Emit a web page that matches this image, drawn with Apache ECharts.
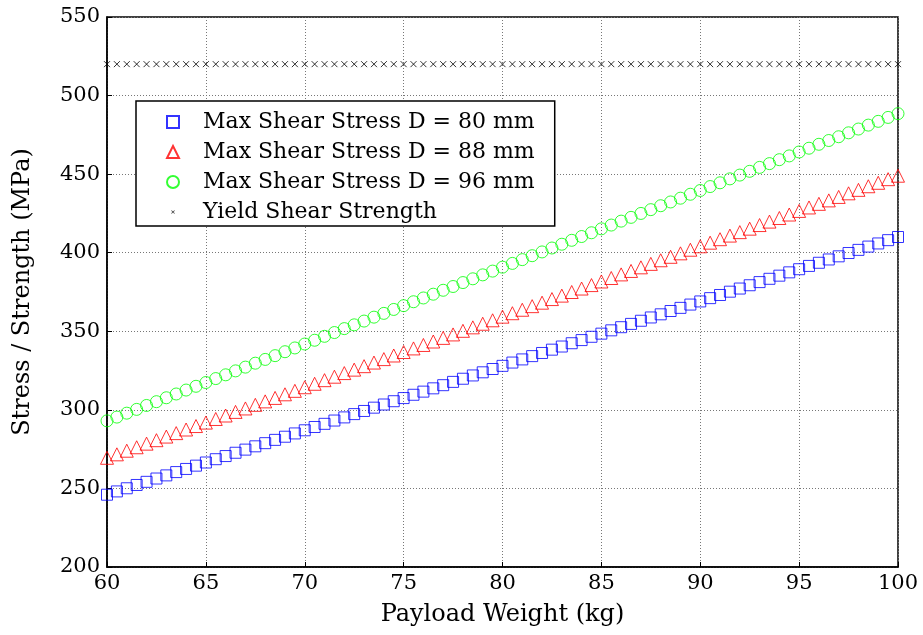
<!DOCTYPE html>
<html>
<head>
<meta charset="utf-8">
<script src="https://cdn.jsdelivr.net/npm/echarts@6/dist/echarts.min.js"></script>
<style>
  html, body { margin: 0; padding: 0; background: #fff; }
  #main { width: 923px; height: 635px; }
</style>
</head>
<body>
<div id="main"></div>
<script>
// payload weight, 60..100 kg every 0.5 kg
const weights = [60,60.5,61,61.5,62,62.5,63,63.5,64,64.5,65,65.5,66,66.5,67,67.5,68,68.5,69,69.5,
  70,70.5,71,71.5,72,72.5,73,73.5,74,74.5,75,75.5,76,76.5,77,77.5,78,78.5,79,79.5,
  80,80.5,81,81.5,82,82.5,83,83.5,84,84.5,85,85.5,86,86.5,87,87.5,88,88.5,89,89.5,
  90,90.5,91,91.5,92,92.5,93,93.5,94,94.5,95,95.5,96,96.5,97,97.5,98,98.5,99,99.5,100];

// max shear stress, D = 80 mm (MPa)
const stressD80 = [246.0,248.1,250.1,252.2,254.2,256.3,258.3,260.4,262.4,264.5,
  266.5,268.6,270.6,272.7,274.7,276.8,278.8,280.9,282.9,285.0,
  287.0,289.1,291.1,293.2,295.2,297.3,299.3,301.4,303.4,305.5,
  307.5,309.6,311.6,313.7,315.7,317.8,319.8,321.9,323.9,326.0,
  328.0,330.1,332.1,334.2,336.2,338.3,340.3,342.4,344.4,346.5,
  348.5,350.6,352.6,354.7,356.7,358.8,360.8,362.9,364.9,367.0,
  369.0,371.1,373.1,375.2,377.2,379.3,381.3,383.4,385.4,387.5,
  389.5,391.6,393.6,395.7,397.7,399.8,401.8,403.9,405.9,408.0,410.0];

// max shear stress, D = 88 mm (MPa)
const stressD88 = [269.5,271.7,274.0,276.2,278.5,280.7,283.0,285.2,287.5,289.7,
  291.9,294.2,296.4,298.7,300.9,303.2,305.4,307.6,309.9,312.1,
  314.4,316.6,318.9,321.1,323.4,325.6,327.8,330.1,332.3,334.6,
  336.8,339.1,341.3,343.5,345.8,348.0,350.3,352.5,354.8,357.0,
  359.3,361.5,363.7,366.0,368.2,370.5,372.7,375.0,377.2,379.4,
  381.7,383.9,386.2,388.4,390.7,392.9,395.2,397.4,399.6,401.9,
  404.1,406.4,408.6,410.9,413.1,415.3,417.6,419.8,422.1,424.3,
  426.6,428.8,431.1,433.3,435.5,437.8,440.0,442.3,444.5,446.8,449.0];

// max shear stress, D = 96 mm (MPa)
const stressD96 = [293.0,295.4,297.9,300.3,302.8,305.2,307.7,310.1,312.6,315.0,
  317.4,319.9,322.3,324.8,327.2,329.7,332.1,334.5,337.0,339.4,
  341.9,344.3,346.8,349.2,351.7,354.1,356.5,359.0,361.4,363.9,
  366.3,368.8,371.2,373.6,376.1,378.5,381.0,383.4,385.9,388.3,
  390.8,393.2,395.6,398.1,400.5,403.0,405.4,407.9,410.3,412.7,
  415.2,417.6,420.1,422.5,425.0,427.4,429.9,432.3,434.7,437.2,
  439.6,442.1,444.5,447.0,449.4,451.8,454.3,456.7,459.2,461.6,
  464.1,466.5,469.0,471.4,473.8,476.3,478.7,481.2,483.6,486.1,488.5];

// yield shear strength (MPa)
const yieldStrength = [520,520,520,520,520,520,520,520,520,520,
  520,520,520,520,520,520,520,520,520,520,
  520,520,520,520,520,520,520,520,520,520,
  520,520,520,520,520,520,520,520,520,520,
  520,520,520,520,520,520,520,520,520,520,
  520,520,520,520,520,520,520,520,520,520,
  520,520,520,520,520,520,520,520,520,520,
  520,520,520,520,520,520,520,520,520,520,520];

const seriesNames = ['Max Shear Stress D = 80 mm', 'Max Shear Stress D = 88 mm',
  'Max Shear Stress D = 96 mm', 'Yield Shear Strength'];

const FONT = '"DejaVu Serif", "Liberation Serif", serif';
const cross = 'path://M0,0L10,10M10,0L0,10';
// filled thin x, padded with tiny corner points so it stays small in the legend box
const crossSmall = 'path://M7,7.8L7.8,7L13,12.2L12.2,13Z M12.2,7L13,7.8L7.8,13L7,12.2Z' +
  ' M0,0L0.01,0L0.01,0.01Z M20,20L19.99,20L19.99,19.99Z';

function pairs(ys) {
  return weights.map(function (w, i) { return [w, ys[i]]; });
}

function hollow(name, ys, symbol, size, color) {
  return {
    name: name,
    type: 'scatter',
    data: pairs(ys),
    symbol: symbol,
    symbolSize: size,
    itemStyle: { color: 'rgba(0,0,0,0)', borderColor: color, borderWidth: 1 },
    emphasis: { disabled: true },
    z: 3
  };
}

const chart = echarts.init(document.getElementById('main'));

const option = {
  backgroundColor: '#fff',
  animation: false,
  grid: {
    left: 107, right: 25, top: 17, bottom: 68,
    show: true, borderColor: '#000', borderWidth: 1.5, backgroundColor: '#fff'
  },
  legend: {
    orient: 'vertical',
    left: 136, top: 101,
    padding: [10, 20, 3, 30],
    itemGap: 8,
    itemWidth: 12, itemHeight: 12,
    borderColor: '#000', borderWidth: 1.5,
    backgroundColor: '#fff',
    textStyle: { fontFamily: FONT, fontSize: 22, color: '#000', padding: [0, 0, 0, 19], lineHeight: 22 },
    data: [
      seriesNames[0], seriesNames[1], seriesNames[2],
      { name: seriesNames[3], icon: crossSmall, itemStyle: { color: '#000', borderWidth: 0 } }
    ]
  },
  xAxis: {
    type: 'value',
    min: 60, max: 100, interval: 5,
    name: 'Payload Weight (kg)',
    nameLocation: 'middle',
    nameGap: 36,
    nameTextStyle: { fontFamily: FONT, fontSize: 24, color: '#000' },
    axisLine: { show: true, lineStyle: { color: '#000', width: 1.5 } },
    axisTick: { inside: true, length: 5, lineStyle: { color: '#000' } },
    axisLabel: { fontFamily: FONT, fontSize: 21, color: '#000', margin: 6 },
    splitLine: { show: true, lineStyle: { color: '#777', type: [1, 2], width: 1 } }
  },
  yAxis: {
    type: 'value',
    min: 200, max: 550, interval: 50,
    name: 'Stress / Strength (MPa)',
    nameLocation: 'middle',
    nameGap: 72,
    nameTextStyle: { fontFamily: FONT, fontSize: 24, color: '#000' },
    axisLine: { show: true, lineStyle: { color: '#000', width: 1.5 } },
    axisTick: { inside: true, length: 5, lineStyle: { color: '#000' } },
    axisLabel: { fontFamily: FONT, fontSize: 21, color: '#000', margin: 7 },
    splitLine: { show: true, lineStyle: { color: '#777', type: [1, 2], width: 1 } }
  },
  series: [
    hollow(seriesNames[0], stressD80, 'rect', 11, '#0000ff'),
    hollow(seriesNames[1], stressD88, 'triangle', 13, '#ff0000'),
    hollow(seriesNames[2], stressD96, 'circle', 12, '#00ff00'),
    {
      name: seriesNames[3],
      type: 'scatter',
      data: pairs(yieldStrength),
      symbol: cross,
      symbolSize: 6,
      itemStyle: { color: 'rgba(0,0,0,0)', borderColor: '#000', borderWidth: 1 },
      emphasis: { disabled: true },
      z: 3
    }
  ]
};

chart.setOption(option);
</script>
</body>
</html>
